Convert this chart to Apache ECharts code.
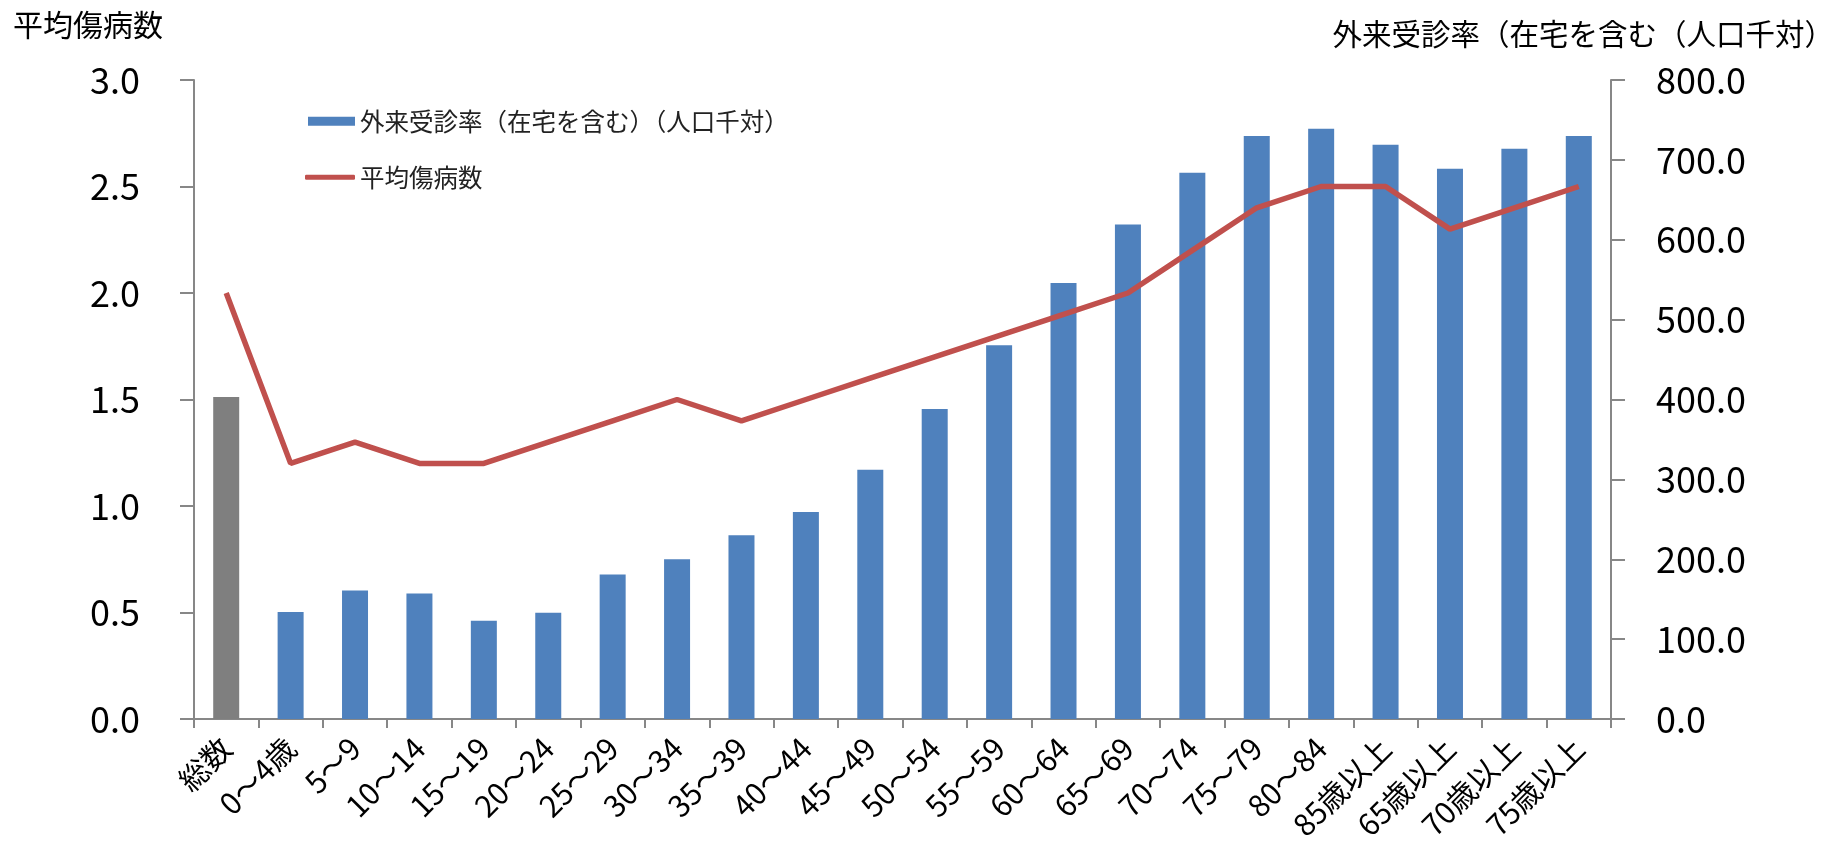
<!DOCTYPE html>
<html>
<head>
<meta charset="utf-8">
<script src="https://cdn.jsdelivr.net/npm/echarts@6/dist/echarts.min.js"></script>
<style>
  html, body { margin: 0; padding: 0; background: #fff; }
  #chart { width: 1842px; height: 843px; }
</style>
</head>
<body>
<div id="chart"></div>
<script>
// Age groups (first entry is the overall total)
const categories = ['総数', '0～4歳', '5～9', '10～14', '15～19', '20～24', '25～29', '30～34', '35～39', '40～44',
  '45～49', '50～54', '55～59', '60～64', '65～69', '70～74', '75～79', '80～84', '85歳以上', '65歳以上', '70歳以上', '75歳以上'];

// Outpatient rate incl. home care, per 1,000 population (right axis)
const outpatientRate = [403, 134, 161, 157, 123, 133, 181, 200, 230, 259, 312, 388, 468, 546, 619, 684, 730, 739, 719, 689, 714, 730];

// Average number of diseases per patient (left axis)
const avgDiseases = [2.0, 1.2, 1.3, 1.2, 1.2, 1.3, 1.4, 1.5, 1.4, 1.5, 1.6, 1.7, 1.8, 1.9, 2.0, 2.2, 2.4, 2.5, 2.5, 2.3, 2.4, 2.5];

// Tick settings
const leftTicks = { min: 0, max: 3, interval: 0.5 };
const rightTicks = { min: 0, max: 800, interval: 100 };

const barName = '外来受診率（在宅を含む）（人口千対）';
const lineName = '平均傷病数';
const leftAxisTitle = '平均傷病数';
const rightAxisTitle = '外来受診率（在宅を含む（人口千対）';

const FONT = '"Noto Sans CJK JP", "Noto Sans", sans-serif';
const AXIS_COLOR = '#878787';
const BLUE = '#4F81BD';
const GREY = '#7F7F7F';
const RED = '#C0504D';

const chart = echarts.init(document.getElementById('chart'), null, { renderer: 'canvas' });

const axisLine = { show: true, lineStyle: { color: AXIS_COLOR, width: 2 } };

chart.setOption({
  animation: false,
  backgroundColor: '#fff',
  textStyle: { fontFamily: FONT },
  title: [
    {
      text: leftAxisTitle, left: 13, top: 10, padding: 0,
      textStyle: { fontFamily: FONT, fontSize: 30, fontWeight: 'normal', color: '#000' }
    },
    {
      text: rightAxisTitle, right: 8, top: 19, padding: 0,
      textStyle: { fontFamily: FONT, fontSize: 29.5, fontWeight: 'normal', color: '#000' }
    }
  ],
  legend: [
    {
      data: [{ name: barName, icon: 'rect' }],
      left: 308, top: 109, padding: 0,
      itemWidth: 47, itemHeight: 9,
      textStyle: { fontFamily: FONT, fontSize: 24.5, color: '#222' }
    },
    {
      data: [{ name: lineName, icon: 'roundRect' }],
      left: 305, top: 165, padding: 0,
      itemWidth: 50, itemHeight: 5,
      textStyle: { fontFamily: FONT, fontSize: 24.5, color: '#222' }
    }
  ],
  grid: { left: 194, right: 231, top: 80, bottom: 124, containLabel: false, outerBoundsMode: 'none' },
  xAxis: {
    type: 'category',
    data: categories,
    axisLine: axisLine,
    axisTick: { show: true, length: 9, lineStyle: { color: AXIS_COLOR, width: 2 } },
    axisLabel: {
      interval: 0, rotate: 45, margin: 24,
      fontFamily: FONT, fontSize: 30, color: '#000'
    },
    splitLine: { show: false }
  },
  yAxis: [
    {
      type: 'value',
      position: 'left',
      min: leftTicks.min, max: leftTicks.max, interval: leftTicks.interval,
      axisLine: axisLine,
      axisTick: { show: true, length: 14, lineStyle: { color: AXIS_COLOR, width: 2 } },
      axisLabel: {
        margin: 54, fontFamily: FONT, fontSize: 36, color: '#000',
        formatter: v => v.toFixed(1)
      },
      splitLine: { show: false }
    },
    {
      type: 'value',
      position: 'right',
      min: rightTicks.min, max: rightTicks.max, interval: rightTicks.interval,
      axisLine: axisLine,
      axisTick: { show: true, length: 14, lineStyle: { color: AXIS_COLOR, width: 2 } },
      axisLabel: {
        margin: 45, fontFamily: FONT, fontSize: 36, color: '#000',
        formatter: v => v.toFixed(1)
      },
      splitLine: { show: false }
    }
  ],
  series: [
    {
      name: barName,
      type: 'bar',
      yAxisIndex: 1,
      barWidth: 26,
      itemStyle: { color: BLUE },
      data: outpatientRate.map((v, i) => i === 0 ? { value: v, itemStyle: { color: GREY } } : v),
      z: 2
    },
    {
      name: lineName,
      type: 'line',
      yAxisIndex: 0,
      symbol: 'none',
      lineStyle: { color: RED, width: 5.5 },
      itemStyle: { color: RED },
      data: avgDiseases,
      z: 3
    }
  ]
});
</script>
</body>
</html>
